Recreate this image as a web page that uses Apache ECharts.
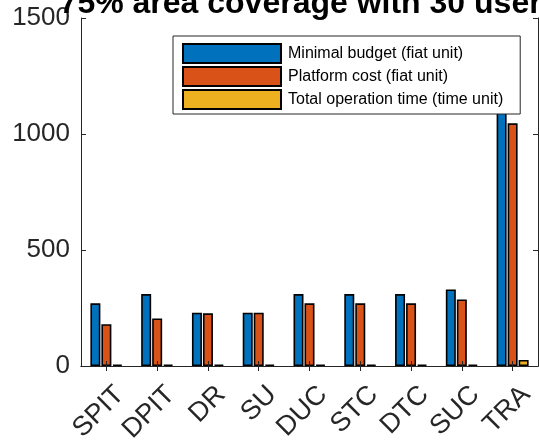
<!DOCTYPE html>
<html>
<head>
<meta charset="utf-8">
<script src="https://cdn.jsdelivr.net/npm/echarts@6/dist/echarts.min.js"></script>
<style>
  html, body { margin: 0; padding: 0; background: #fff; }
  #chart { width: 539px; height: 447px; }
</style>
</head>
<body>
<div id="chart"></div>
<script>
// Scheme labels along the x axis
const categories = ['SPIT', 'DPIT', 'DR', 'SU', 'DUC', 'STC', 'DTC', 'SUC', 'TRA'];

// Series values per scheme
const minimalBudget = [270, 310, 230, 230, 310, 310, 310, 330, 1200];
const platformCost = [180, 205, 227, 230, 270, 270, 270, 287, 1046];
const totalOperationTime = [5, 5, 5, 5, 5, 5, 5, 5, 26];

const seriesNames = [
  'Minimal budget (fiat unit)',
  'Platform cost (fiat unit)',
  'Total operation time (time unit)'
];

const yTicks = [0, 500, 1000, 1500];
const titleText = '75% area coverage with 30 users';

const axisColor = '#262626';
const font = 'Liberation Sans, Arial, Helvetica, sans-serif';
const colors = ['#0072BD', '#D95319', '#EDB120'];

const chart = echarts.init(document.getElementById('chart'), null, { renderer: 'canvas' });

function barSeries(name, data, color) {
  return {
    name: name,
    type: 'bar',
    data: data,
    barWidth: 10,
    barGap: '10%',
    xAxisIndex: 0,
    yAxisIndex: 0,
    itemStyle: { color: color, borderColor: '#000', borderWidth: 1.6 },
    emphasis: { disabled: true }
  };
}

const plainAxis = {
  axisLine: { show: true, lineStyle: { color: axisColor, width: 1 } },
  splitLine: { show: false }
};

chart.setOption({
  animation: false,
  backgroundColor: '#fff',
  grid: { left: 81, right: 1, top: 18, bottom: 81, containLabel: false, outerBoundsMode: 'none' },
  graphic: [{
    type: 'text',
    x: 309.5,
    y: 20,
    z: 10,
    style: {
      text: titleText,
      fill: '#000',
      font: 'bold 32px ' + font,
      align: 'center',
      verticalAlign: 'bottom'
    }
  }],
  legend: {
    orient: 'vertical',
    left: 173,
    top: 36,
    padding: [7, 17, 4, 9],
    itemWidth: 98,
    itemHeight: 19,
    itemGap: 2,
    backgroundColor: '#fff',
    borderColor: axisColor,
    borderWidth: 1,
    borderRadius: 0,
    icon: 'rect',
    selectedMode: false,
    data: seriesNames,
    textStyle: { color: '#000', fontFamily: font, fontSize: 16, lineHeight: 19, padding: [0, 0, 0, 2] }
  },
  xAxis: [
    Object.assign({}, plainAxis, {
      type: 'category',
      data: categories,
      position: 'bottom',
      z: 5,
      axisTick: { show: true, inside: true, alignWithLabel: true, length: 5, lineStyle: { color: axisColor } },
      axisLabel: {
        rotate: 45,
        color: axisColor,
        fontFamily: font,
        fontSize: 27,
        margin: 38,
        padding: [0, -19, 0, 0],
        interval: 0
      }
    }),
    Object.assign({}, plainAxis, {
      type: 'category',
      data: categories,
      position: 'top',
      z: 5,
      axisTick: { show: true, inside: true, alignWithLabel: true, length: 5, lineStyle: { color: axisColor } },
      axisLabel: { show: false }
    })
  ],
  yAxis: [
    Object.assign({}, plainAxis, {
      type: 'value',
      min: yTicks[0],
      max: yTicks[yTicks.length - 1],
      interval: yTicks[1] - yTicks[0],
      position: 'left',
      z: 5,
      axisTick: { show: true, inside: true, length: 5, lineStyle: { color: axisColor } },
      axisLabel: {
        color: axisColor, fontFamily: font, fontSize: 26, margin: 11,
        formatter: function (v) { return String(v); }
      }
    }),
    Object.assign({}, plainAxis, {
      type: 'value',
      min: yTicks[0],
      max: yTicks[yTicks.length - 1],
      interval: yTicks[1] - yTicks[0],
      position: 'right',
      z: 5,
      axisTick: { show: true, inside: true, length: 5, lineStyle: { color: axisColor } },
      axisLabel: { show: false }
    })
  ],
  series: [
    barSeries(seriesNames[0], minimalBudget, colors[0]),
    barSeries(seriesNames[1], platformCost, colors[1]),
    barSeries(seriesNames[2], totalOperationTime, colors[2])
  ]
});
</script>
</body>
</html>
